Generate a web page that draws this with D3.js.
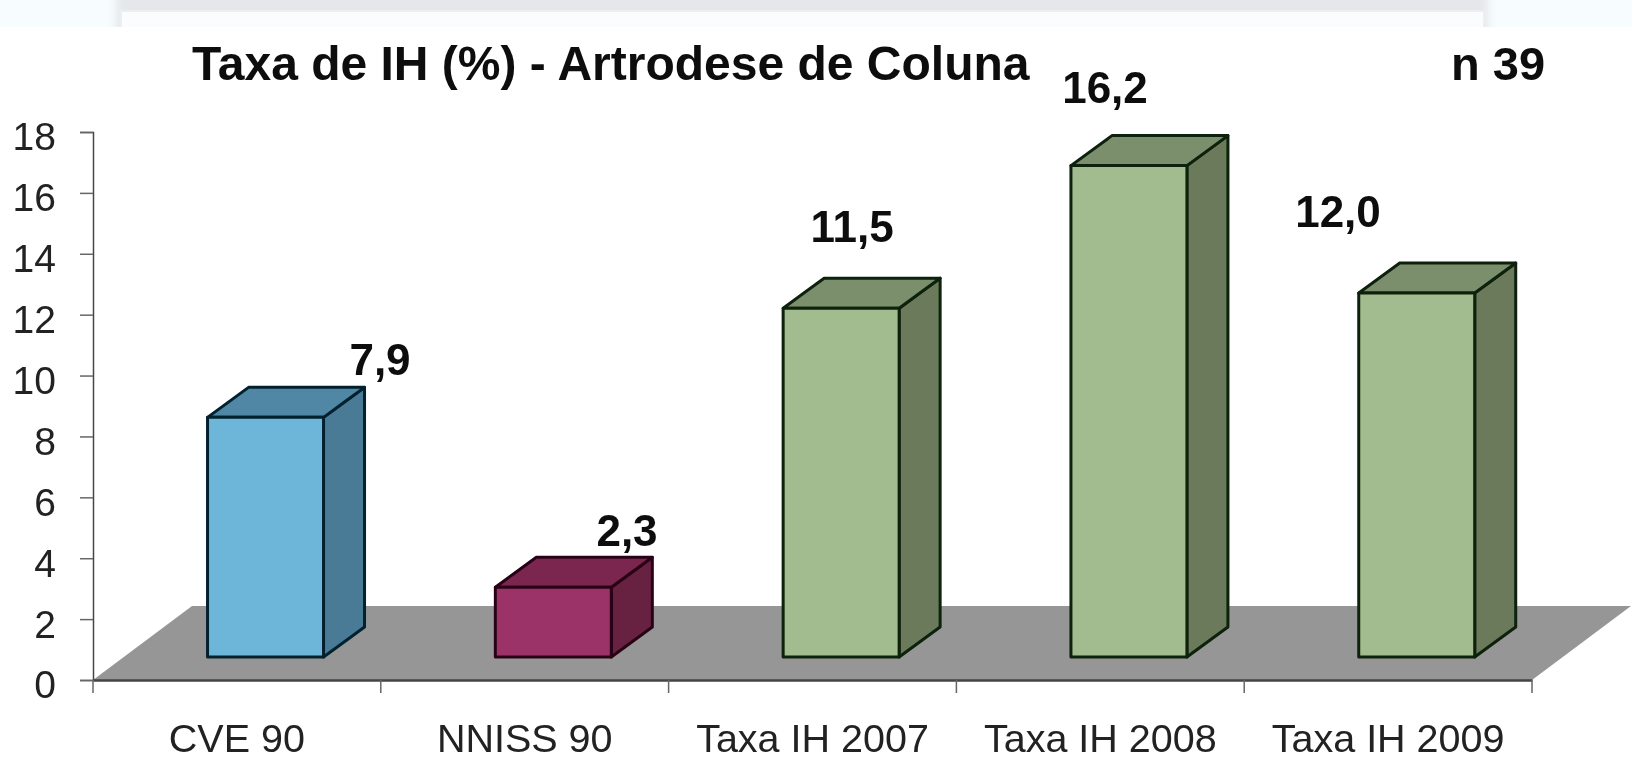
<!DOCTYPE html>
<html><head><meta charset="utf-8">
<style>html,body{margin:0;padding:0;background:#fff}svg{display:block}text{font-family:"Liberation Sans",Arial,sans-serif}</style>
<script src="https://cdn.jsdelivr.net/npm/d3@7"></script>
</head><body><svg id="c" width="1632" height="761"></svg>
<script>
const categories = ["CVE 90","NNISS 90","Taxa IH 2007","Taxa IH 2008","Taxa IH 2009"];
const values = [7.9,2.3,11.5,16.2,12.0];
const valueLabels = ["7,9","2,3","11,5","16,2","12,0"];
const yTicks = [0,2,4,6,8,10,12,14,16,18];
const titleText = "Taxa de IH (%) - Artrodese de Coluna";
const nText = "n 39";
const frontColors = ["#6eb6d9","#9b3067","#a3bc8f","#a3bc8f","#a3bc8f"];
const sideColors = ["#487a96","#66203f","#6b7a5a","#6b7a5a","#6b7a5a"];
const topColors = ["#4f87a5","#7a2650","#7b8f6d","#7b8f6d","#7b8f6d"];
const strokeColors = ["#05202f","#2a0618","#0f200a","#0f200a","#0f200a"];
const labelPos = [[380,375],[627,546],[852,242],[1105,103],[1338,227]];

const svg = d3.select("#c");
const defs = svg.append("defs");
defs.append("filter").attr("id","shadow").attr("x","-5%").attr("y","-100%").attr("width","110%").attr("height","300%")
  .append("feGaussianBlur").attr("stdDeviation",4);
defs.append("filter").attr("id","soft").attr("x","-5%").attr("y","-5%").attr("width","110%").attr("height","110%")
  .append("feGaussianBlur").attr("stdDeviation",0.55);

const x = d3.scaleBand().domain(categories).range([93,1532]);
const y = d3.scaleLinear().domain([0,18]).range([680,132]);
const barHeight = d3.scaleLinear().domain([0,18]).range([0,546]);
const line = d3.line();

// page chrome strip at the top of the screenshot
const strip = svg.append("g");
strip.append("rect").attr("width",1632).attr("height",27).attr("fill","#f7fcff");
strip.append("rect").attr("x",116).attr("y",-10).attr("width",1372).attr("height",50).attr("fill","#e4e8ea").attr("filter","url(#shadow)");
strip.append("rect").attr("x",121).attr("y",11).attr("width",1363).attr("height",30).attr("fill","#fbfcfd").attr("stroke","#eceff0").attr("stroke-width",2);
strip.append("rect").attr("x",0).attr("y",27).attr("width",1632).attr("height",734).attr("fill","#fff");

const chart = svg.append("g").attr("filter","url(#soft)");

// floor
const floorDx = 99, floorDy = y(0)-606;
chart.append("path").attr("fill","#969696")
  .attr("d",line([[x.range()[0],y(0)],[x.range()[0]+floorDx,y(0)-floorDy],[x.range()[1]+floorDx,y(0)-floorDy],[x.range()[1],y(0)]])+"Z");

// axes
const yAxis = d3.axisLeft(y).tickValues(yTicks).tickSize(13).tickPadding(24).tickFormat(d3.format("d"));
const gy = chart.append("g").attr("transform","translate(93,0)").call(yAxis);
gy.selectAll("text").attr("font-size",39).attr("fill","#222").attr("dy","0.46em").style("font-family",'"Liberation Sans"');
gy.selectAll("line").attr("stroke","#666").attr("stroke-width",1.5);
gy.select(".domain").attr("stroke","#444").attr("stroke-width",1.5);

const xAxis = d3.axisBottom(x).tickSize(0).tickPadding(44);
const gx = chart.append("g").attr("transform",`translate(0,${y(0)})`).call(xAxis);
gx.selectAll("text").attr("font-size",39.5).attr("fill","#222").attr("dy","0.71em").style("font-family",'"Liberation Sans"');
gx.select(".domain").attr("stroke","#444").attr("stroke-width",2.5);
chart.append("g").selectAll("line").data(d3.range(categories.length+1)).join("line")
  .attr("x1",i=>x.range()[0]+i*x.step()).attr("x2",i=>x.range()[0]+i*x.step())
  .attr("y1",y(0)).attr("y2",y(0)+13).attr("stroke","#666").attr("stroke-width",1.5);

// bars
const baseLift = 23, barOffset = 0.398, barFrac = 0.403, dx = 41, dy = 30;
const bars = chart.append("g").selectAll("g").data(values).join("g")
  .attr("stroke",(d,i)=>strokeColors[i]).attr("stroke-width",3).attr("stroke-linejoin","round");
const bx = i => x(categories[i]) + barOffset*x.bandwidth();
const bw = () => barFrac*x.bandwidth();
const by0 = y(0)-baseLift;
bars.append("path").attr("fill",(d,i)=>sideColors[i]).attr("d",(d,i)=>{
  const r=bx(i)+bw(), t=by0-barHeight(d);
  return line([[r,t],[r+dx,t-dy],[r+dx,by0-dy],[r,by0]])+"Z";});
bars.append("path").attr("fill",(d,i)=>topColors[i]).attr("d",(d,i)=>{
  const l=bx(i), r=l+bw(), t=by0-barHeight(d);
  return line([[l,t],[l+dx,t-dy],[r+dx,t-dy],[r,t]])+"Z";});
bars.append("path").attr("fill",(d,i)=>frontColors[i]).attr("d",(d,i)=>{
  const l=bx(i), r=l+bw(), t=by0-barHeight(d);
  return line([[l,t],[r,t],[r,by0],[l,by0]])+"Z";});

// value labels
chart.append("g").selectAll("text").data(valueLabels).join("text")
  .attr("x",(d,i)=>labelPos[i][0]).attr("y",(d,i)=>labelPos[i][1])
  .attr("text-anchor","middle").attr("font-size",44).attr("font-weight","bold").attr("fill","#111").text(d=>d);

// titles
chart.append("text").attr("x",192).attr("y",80).attr("font-size",48).attr("font-weight","bold").attr("fill","#111").text(titleText);
chart.append("text").attr("x",1451).attr("y",80).attr("font-size",47).attr("font-weight","bold").attr("fill","#111").text(nText);
</script></body></html>
